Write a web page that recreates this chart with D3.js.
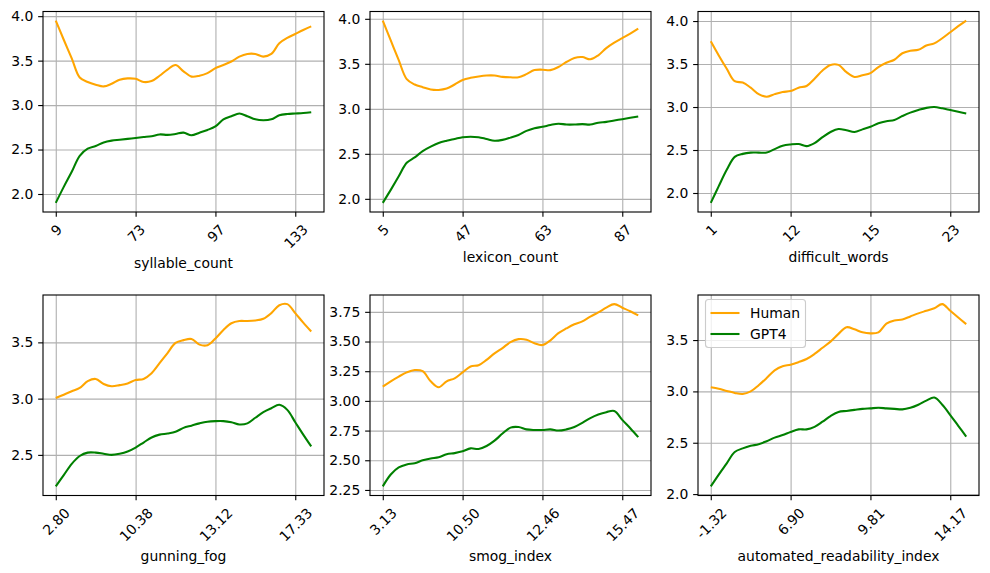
<!DOCTYPE html>
<meta charset="utf-8">
<style>
    body { margin: 0; background: #fff; }
    text { font-family: "DejaVu Sans", sans-serif; fill: #000; }
    .line { fill: none; stroke-width: 2.08px; }
    .grid line { stroke: #b0b0b0; stroke-width: 1.11px; }
    .grid path { display: none; }
    .axis path { display: none; }
    .axis line { stroke: #000; stroke-width: 1.11px; }
</style>
<svg width="990" height="573"></svg>
<script src="https://cdn.jsdelivr.net/npm/d3@7"></script>
<script>
    // Feature names and quantile tick labels
    const features = ["syllable_count", "lexicon_count", "difficult_words",
        "gunning_fog", "smog_index", "automated_readability_index"];
    const syllableTicks = ["9", "73", "97", "133"];
    const lexiconTicks = ["5", "47", "63", "87"];
    const difficultTicks = ["1", "12", "15", "23"];
    const fogTicks = ["2.80", "10.38", "13.12", "17.33"];
    const smogTicks = ["3.13", "10.50", "12.46", "15.47"];
    const ariTicks = ["-1.32", "6.90", "9.81", "14.17"];

    const seriesNames = ["Human", "GPT4"];
    const seriesColors = ["orange", "green"];

    // Values, one per bin (33 bins)
    const humanSyllable = [3.95, 3.735, 3.525, 3.31, 3.26, 3.23, 3.21, 3.24, 3.285, 3.30, 3.295,
        3.26, 3.27, 3.33, 3.40, 3.45, 3.38, 3.32, 3.33, 3.36, 3.415, 3.45, 3.49, 3.545, 3.575,
        3.575, 3.545, 3.575, 3.695, 3.755, 3.80, 3.845, 3.885];
    const gptSyllable = [1.90, 2.08, 2.25, 2.43, 2.51, 2.54, 2.58, 2.60, 2.61, 2.62, 2.63,
        2.64, 2.65, 2.67, 2.665, 2.675, 2.69, 2.66, 2.69, 2.72, 2.76, 2.84, 2.875, 2.905, 2.875,
        2.84, 2.83, 2.84, 2.885, 2.90, 2.905, 2.91, 2.92];

    const humanLexicon = [3.98, 3.76, 3.54, 3.33, 3.27, 3.24, 3.215, 3.21, 3.225, 3.27, 3.32,
        3.345, 3.36, 3.37, 3.37, 3.355, 3.35, 3.35, 3.385, 3.43, 3.435, 3.43, 3.465, 3.52, 3.565,
        3.575, 3.55, 3.595, 3.675, 3.735, 3.785, 3.835, 3.89];
    const gptLexicon = [1.955, 2.10, 2.25, 2.40, 2.46, 2.53, 2.58, 2.62, 2.645, 2.665, 2.685,
        2.69, 2.685, 2.665, 2.645, 2.655, 2.68, 2.71, 2.755, 2.785, 2.80, 2.82, 2.835, 2.825, 2.825,
        2.83, 2.825, 2.845, 2.855, 2.87, 2.885, 2.90, 2.915];

    const humanDifficult = [3.765, 3.60, 3.445, 3.30, 3.285, 3.225, 3.15, 3.12, 3.15, 3.175, 3.185,
        3.225, 3.245, 3.33, 3.425, 3.49, 3.49, 3.405, 3.35, 3.37, 3.395, 3.465, 3.515, 3.55, 3.625,
        3.655, 3.665, 3.715, 3.74, 3.80, 3.87, 3.94, 4.005];
    const gptDifficult = [1.885, 2.08, 2.27, 2.42, 2.455, 2.47, 2.47, 2.47, 2.51, 2.55, 2.565,
        2.57, 2.545, 2.58, 2.65, 2.71, 2.745, 2.73, 2.71, 2.74, 2.77, 2.81, 2.835, 2.85, 2.895,
        2.935, 2.965, 2.99, 3.00, 2.985, 2.965, 2.945, 2.925];

    const humanFog = [3.005, 3.035, 3.065, 3.095, 3.155, 3.175, 3.13, 3.11, 3.12, 3.135, 3.165,
        3.175, 3.225, 3.315, 3.405, 3.495, 3.52, 3.53, 3.48, 3.475, 3.535, 3.61, 3.67, 3.69, 3.69,
        3.695, 3.71, 3.76, 3.83, 3.84, 3.76, 3.675, 3.596];
    const gptFog = [2.22, 2.32, 2.42, 2.49, 2.52, 2.52, 2.51, 2.50, 2.51, 2.53, 2.565,
        2.61, 2.655, 2.68, 2.69, 2.705, 2.74, 2.76, 2.78, 2.795, 2.80, 2.80, 2.79, 2.77, 2.78,
        2.83, 2.88, 2.915, 2.945, 2.90, 2.79, 2.68, 2.575];

    const humanSmog = [3.12, 3.165, 3.205, 3.24, 3.26, 3.25, 3.165, 3.115, 3.165, 3.19, 3.24,
        3.29, 3.30, 3.345, 3.40, 3.445, 3.495, 3.52, 3.515, 3.485, 3.47, 3.51, 3.57, 3.61, 3.645,
        3.67, 3.71, 3.745, 3.785, 3.815, 3.785, 3.755, 3.72];
    const gptSmog = [2.28, 2.38, 2.44, 2.465, 2.475, 2.50, 2.515, 2.525, 2.55, 2.56, 2.575,
        2.60, 2.595, 2.62, 2.665, 2.725, 2.775, 2.78, 2.76, 2.755, 2.755, 2.76, 2.75, 2.76, 2.78,
        2.815, 2.855, 2.885, 2.905, 2.915, 2.84, 2.77, 2.695];

    const humanAri = [3.04, 3.025, 3.005, 2.985, 2.975, 3.00, 3.06, 3.13, 3.205, 3.245, 3.26,
        3.285, 3.315, 3.365, 3.425, 3.485, 3.56, 3.625, 3.605, 3.575, 3.565, 3.575, 3.66, 3.69, 3.70,
        3.73, 3.76, 3.785, 3.81, 3.85, 3.785, 3.72, 3.655];
    const gptAri = [2.075, 2.19, 2.30, 2.41, 2.445, 2.47, 2.485, 2.515, 2.55, 2.575, 2.605,
        2.63, 2.63, 2.655, 2.705, 2.76, 2.80, 2.81, 2.82, 2.83, 2.835, 2.84, 2.835, 2.83, 2.825,
        2.84, 2.87, 2.91, 2.94, 2.87, 2.77, 2.665, 2.56];

    const tickBins = [0, 10, 20, 30];
    const yTicksA = [2.0, 2.5, 3.0, 3.5, 4.0];
    const yTicksFog = [2.5, 3.0, 3.5];
    const yTicksSmog = [2.25, 2.5, 2.75, 3.0, 3.25, 3.5, 3.75];
    const yTicksAri = [2.0, 2.5, 3.0, 3.5];

    const panels = [
        { name: features[0], ticks: syllableTicks, series: [humanSyllable, gptSyllable], yTicks: yTicksA, fmt: ".1f" },
        { name: features[1], ticks: lexiconTicks, series: [humanLexicon, gptLexicon], yTicks: yTicksA, fmt: ".1f" },
        { name: features[2], ticks: difficultTicks, series: [humanDifficult, gptDifficult], yTicks: yTicksA, fmt: ".1f" },
        { name: features[3], ticks: fogTicks, series: [humanFog, gptFog], yTicks: yTicksFog, fmt: ".1f" },
        { name: features[4], ticks: smogTicks, series: [humanSmog, gptSmog], yTicks: yTicksSmog, fmt: ".2f" },
        { name: features[5], ticks: ariTicks, series: [humanAri, gptAri], yTicks: yTicksAri, fmt: ".1f" }
    ];

    const svg = d3.select("svg");
    const fs = 13.9;
    const colLeft = [43, 370, 698], rowTop = [11.5, 295];
    const pw = 281, ph = 200.5;

    panels.forEach((p, i) => {
        const left = colLeft[i % 3], top = rowTop[Math.floor(i / 3)];
        const n = p.series[0].length;
        const xPad = (n - 1) * 0.05;
        const x = d3.scaleLinear().domain([-xPad, n - 1 + xPad]).range([left, left + pw]);
        const all = p.series.flat();
        const lo = d3.min(all), hi = d3.max(all), yPad = (hi - lo) * 0.05;
        const y = d3.scaleLinear().domain([lo - yPad, hi + yPad]).range([top + ph, top]);

        const g = svg.append("g");

        // Gridlines
        g.append("g").attr("class", "grid")
            .attr("transform", `translate(0,${top + ph})`)
            .call(d3.axisBottom(x).tickValues(tickBins).tickSize(-ph).tickFormat(""));
        g.append("g").attr("class", "grid")
            .attr("transform", `translate(${left},0)`)
            .call(d3.axisLeft(y).tickValues(p.yTicks).tickSize(-pw).tickFormat(""));

        // Lines
        const line = d3.line()
            .x((d, j) => x(j))
            .y(d => y(d))
            .curve(d3.curveCatmullRom.alpha(0.5));
        p.series.forEach((vals, k) => {
            g.append("path")
                .datum(vals)
                .attr("class", "line")
                .attr("stroke", seriesColors[k])
                .attr("d", line);
        });

        // Frame
        g.append("rect")
            .attr("x", left).attr("y", top)
            .attr("width", pw).attr("height", ph)
            .attr("fill", "none").attr("stroke", "#000").attr("stroke-width", 1.11);

        // Y axis
        g.append("g").attr("class", "axis")
            .attr("transform", `translate(${left},0)`)
            .call(d3.axisLeft(y).tickValues(p.yTicks).tickSize(4.86).tickPadding(4.86).tickFormat(d3.format(p.fmt)))
            .call(a => a.selectAll("text").attr("font-size", fs).attr("font-family", "DejaVu Sans").attr("fill", "#000"))
            .attr("font-size", null).attr("font-family", null);

        // X axis with rotated labels
        let maxBottom = 0;
        const axTop = top + ph;
        g.append("g").attr("class", "axis")
            .attr("transform", `translate(0,${axTop})`)
            .call(d3.axisBottom(x).tickValues(tickBins).tickSize(4.86).tickFormat((d, j) => p.ticks[j]))
            .attr("font-size", null).attr("font-family", null)
            .call(a => a.selectAll("text")
                .attr("font-size", fs).attr("font-family", "DejaVu Sans").attr("fill", "#000")
                .attr("y", null).attr("dy", null)
                .attr("text-anchor", "middle")
                .attr("dominant-baseline", "central")
                .attr("transform", function () {
                    const w = this.getComputedTextLength();
                    const half = (w + 15) / (2 * Math.SQRT2);
                    maxBottom = Math.max(maxBottom, 9.72 + 2 * half);
                    return `translate(0,${9.72 + half}) rotate(-45)`;
                }));

        g.append("text")
            .attr("x", left + pw / 2)
            .attr("y", axTop + maxBottom + 5.56 + 11.5)
            .attr("text-anchor", "middle")
            .attr("font-size", fs)
            .text(p.name);

        // Legend in the last panel
        if (i === 5) {
            const lx = left + 7.5, ly = top + 4.5;
            const legend = g.append("g");
            legend.append("rect")
                .attr("x", lx).attr("y", ly)
                .attr("width", 100).attr("height", 48)
                .attr("rx", 3)
                .attr("fill", "#fff").attr("fill-opacity", 0.8)
                .attr("stroke", "#cccccc").attr("stroke-width", 1.11);
            seriesNames.forEach((name, k) => {
                const cy = ly + 13.5 + k * 21;
                legend.append("line")
                    .attr("x1", lx + 5).attr("x2", lx + 34)
                    .attr("y1", cy).attr("y2", cy)
                    .attr("stroke", seriesColors[k]).attr("stroke-width", 2.08);
                legend.append("text")
                    .attr("x", lx + 44.5).attr("y", cy)
                    .attr("dominant-baseline", "central")
                    .attr("font-size", fs)
                    .text(name);
            });
        }
    });
</script>
